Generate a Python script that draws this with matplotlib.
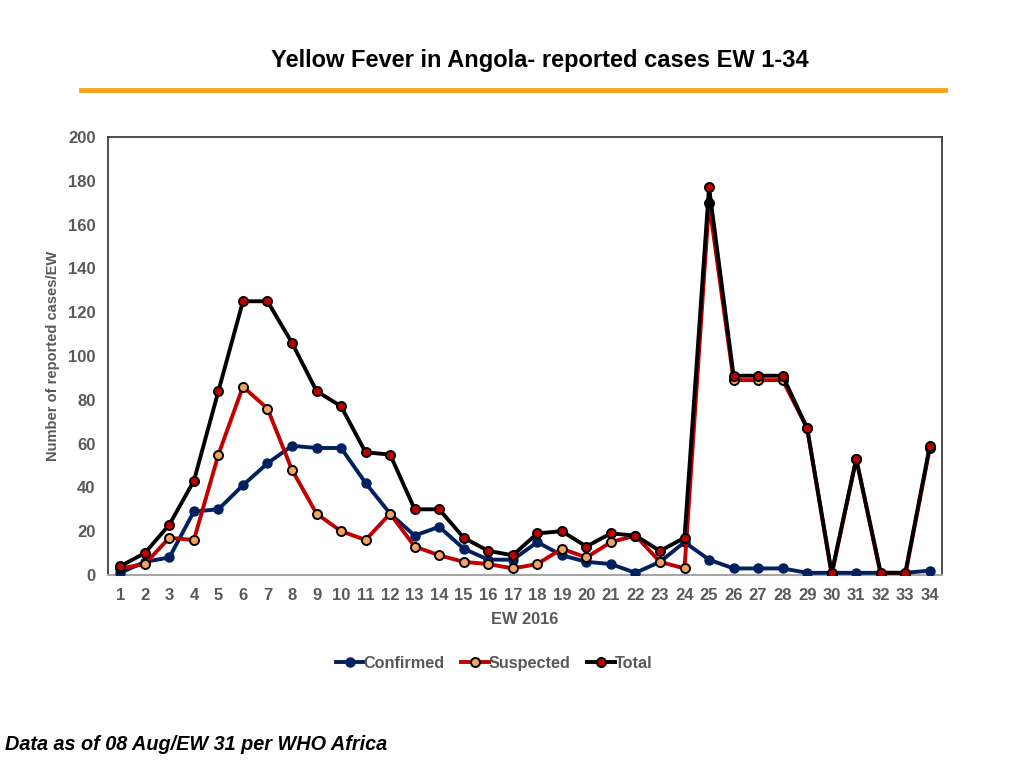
import numpy as np
import matplotlib.pyplot as plt

plt.rcParams['font.family'] = ['Liberation Sans', 'DejaVu Sans']

# Data
weeks = list(range(1, 35))
confirmed = [1, 6, 8, 29, 30, 41, 51, 59, 58, 58, 42, 28, 18, 22, 12, 7, 7,
             15, 9, 6, 5, 1, 6, 15, 7, 3, 3, 3, 1, 1, 1, 1, 1, 2]
suspected = [3, 5, 17, 16, 55, 86, 76, 48, 28, 20, 16, 28, 13, 9, 6, 5, 3,
             5, 12, 8, 15, 18, 6, 3, 170, 89, 89, 89, 67, 0, 53, 0, 0, 58]
total = [4, 10, 23, 43, 84, 125, 125, 106, 84, 77, 56, 55, 30, 30, 17, 11, 9,
         19, 20, 13, 19, 18, 11, 17, 177, 91, 91, 91, 67, 1, 53, 1, 1, 59]

navy = '#002060'
red = '#C00000'
grey = '#595959'

fig = plt.figure(figsize=(10.24, 7.68), dpi=100)
ax = fig.add_axes([0.1055, 0.2513, 0.8145, 0.5703])

ax.plot(weeks, confirmed, color=navy, lw=2.8, marker='o', ms=6.5,
        mfc=navy, mec=navy, label='Confirmed', zorder=3)
ax.plot(weeks, suspected, color=red, lw=2.8, marker='o', ms=6.5,
        mfc='#F4A460', mec='black', mew=1.4, label='Suspected', zorder=4)
ax.plot(weeks, total, color='black', lw=2.8, marker='o', ms=6.5,
        mfc=red, mec='black', mew=1.4, label='Total', zorder=5)

ax.set_xlim(0.5, 34.5)
ax.set_ylim(0, 200)
ax.set_xticks(weeks)
ax.set_yticks(np.arange(0, 201, 20))
ax.tick_params(length=0, labelsize=12, labelcolor=grey, pad=9)
for lab in ax.get_xticklabels() + ax.get_yticklabels():
    lab.set_fontweight('bold')

for side in ['left', 'top', 'right']:
    ax.spines[side].set_color('#404040')
    ax.spines[side].set_linewidth(1.3)
ax.spines['bottom'].set_color('#A6A6A6')
ax.spines['bottom'].set_linewidth(1.5)

ax.set_xlabel('EW 2016', fontsize=11.8, fontweight='bold', color=grey, labelpad=7)
ax.set_ylabel('Number of reported cases/EW', fontsize=10.5, fontweight='bold',
              color=grey, labelpad=6)

leg = ax.legend(loc='upper center', bbox_to_anchor=(0.463, -0.151), ncol=3,
                frameon=False, fontsize=11.7, handlelength=1.7,
                handletextpad=0.0, columnspacing=1.0)
for t in leg.get_texts():
    t.set_color(grey)
    t.set_fontweight('bold')

# Title and orange rule
fig.text(0.527, 0.921, 'Yellow Fever in Angola- reported cases EW 1-34',
         ha='center', va='center', fontsize=17, fontweight='bold')
fig.add_artist(plt.Line2D([0.079, 0.923], [0.883, 0.883], color='#F7A21B',
                          lw=3.5))

fig.text(0.005, 0.03, 'Data as of 08 Aug/EW 31 per WHO Africa', ha='left',
         va='center', fontsize=14.3, fontweight='bold', style='italic')

fig.savefig('out.png', dpi=100)
